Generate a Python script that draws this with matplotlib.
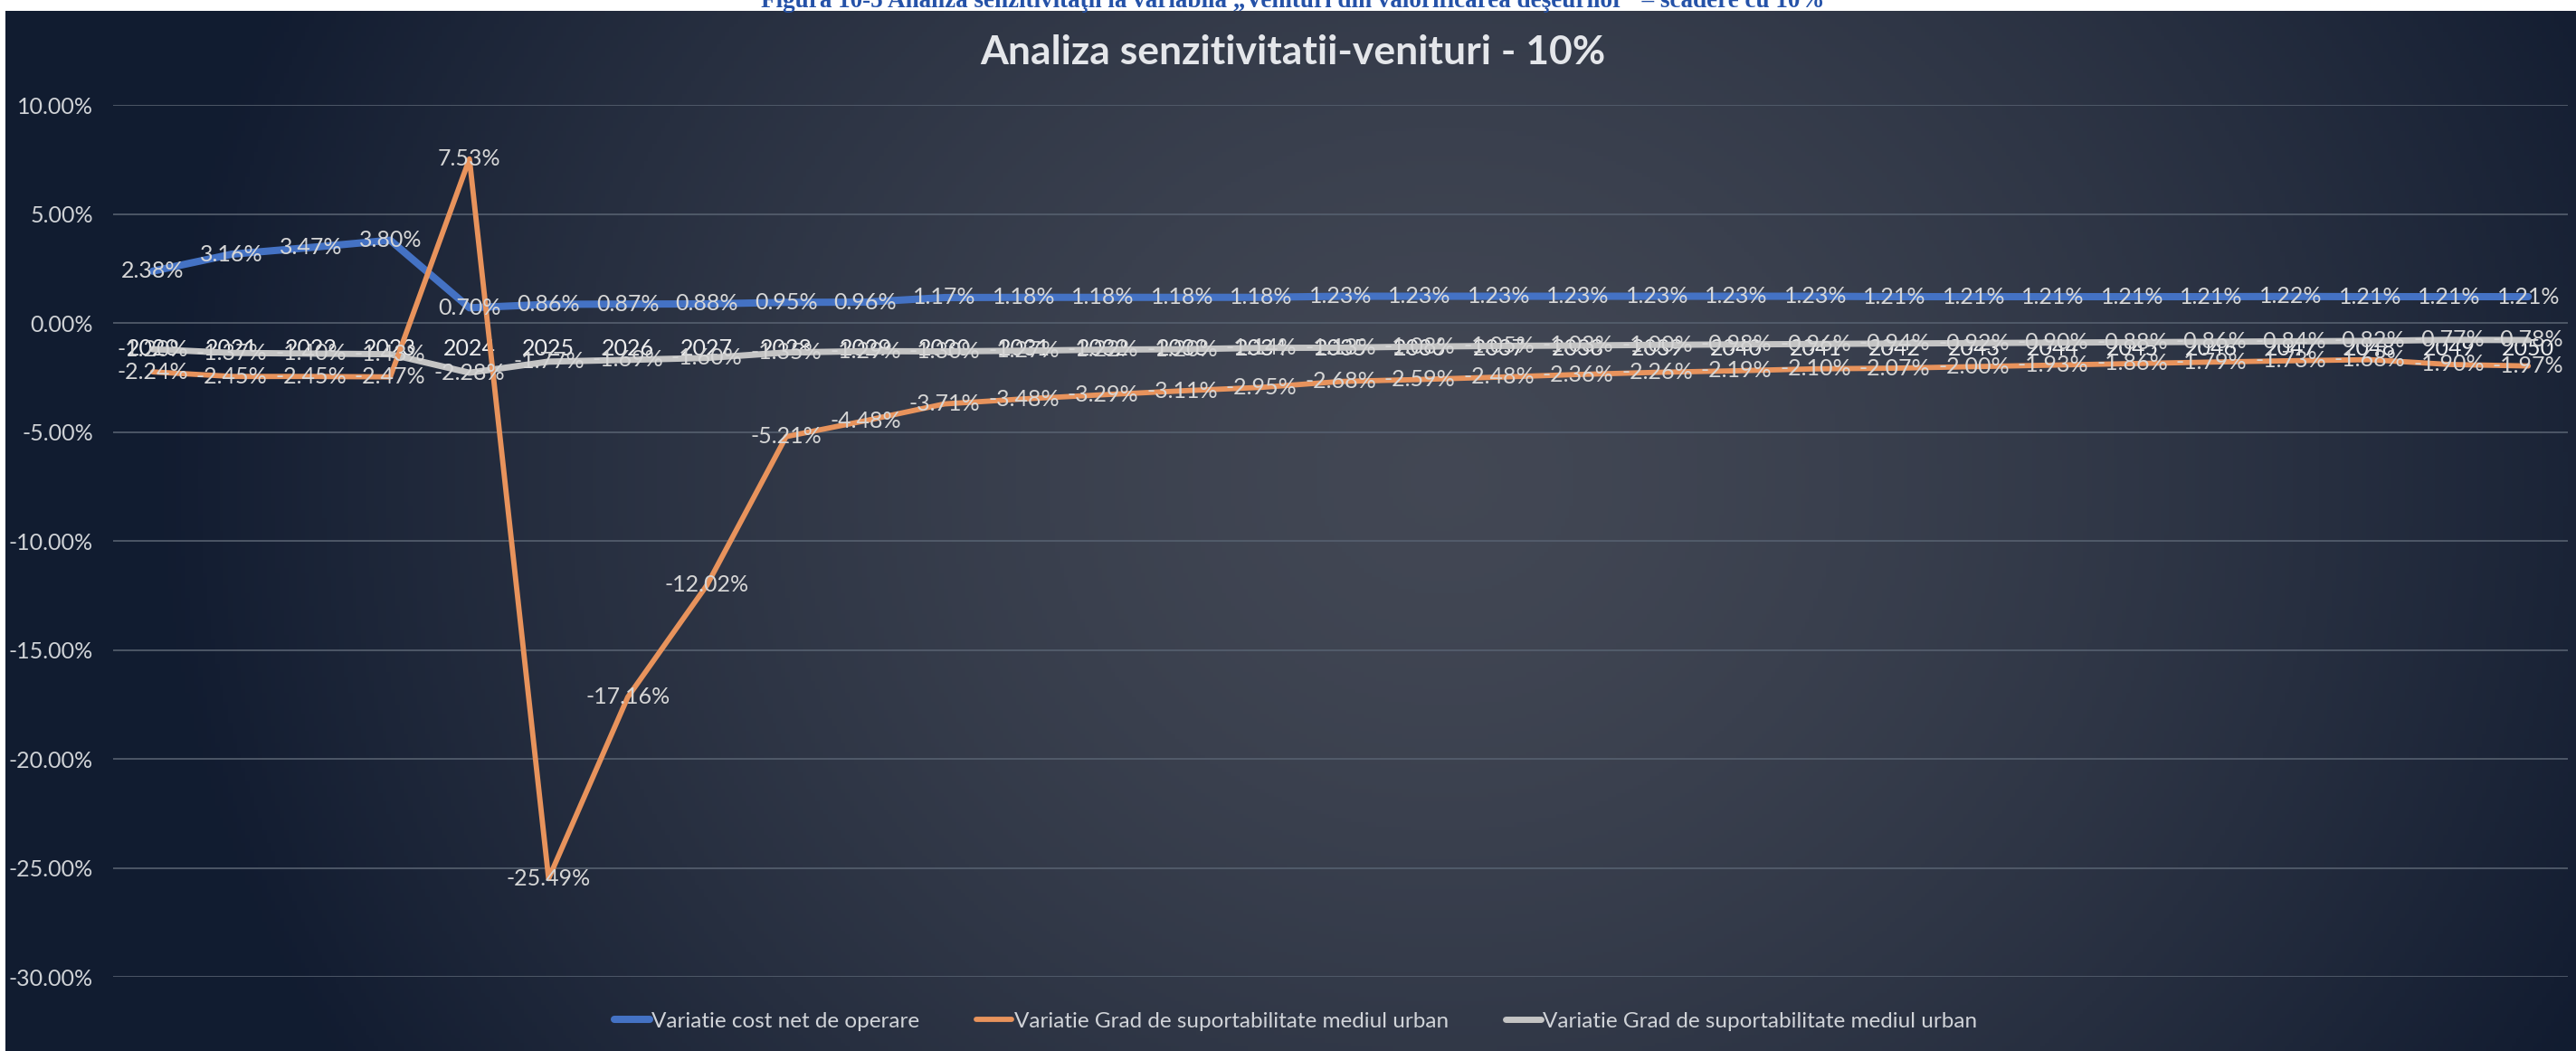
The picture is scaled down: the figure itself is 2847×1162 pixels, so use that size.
import numpy as np
import matplotlib
matplotlib.use("Agg")
import matplotlib.pyplot as plt
from matplotlib.ticker import FuncFormatter

years = list(range(2020, 2051))

cost_net = [2.38, 3.16, 3.47, 3.80, 0.70, 0.86, 0.87, 0.88, 0.95, 0.96,
            1.17, 1.18, 1.18, 1.18, 1.18, 1.23, 1.23, 1.23, 1.23, 1.23,
            1.23, 1.23, 1.21, 1.21, 1.21, 1.21, 1.21, 1.22, 1.21, 1.21, 1.21]

grad_urban_a = [-2.24, -2.45, -2.45, -2.47, 7.53, -25.49, -17.16, -12.02, -5.21, -4.48,
                -3.71, -3.48, -3.29, -3.11, -2.95, -2.68, -2.59, -2.48, -2.36, -2.26,
                -2.19, -2.10, -2.07, -2.00, -1.93, -1.86, -1.79, -1.73, -1.68, -1.90, -1.97]

grad_urban_b = [-1.20, -1.37, -1.40, -1.43, -2.28, -1.77, -1.69, -1.60, -1.35, -1.29,
                -1.30, -1.27, -1.22, -1.20, -1.14, -1.13, -1.08, -1.05, -1.03, -1.00,
                -0.98, -0.96, -0.94, -0.92, -0.90, -0.88, -0.86, -0.84, -0.82, -0.77, -0.78]

series_names = ["Variatie cost net de operare",
                "Variatie Grad de suportabilitate mediul urban",
                "Variatie Grad de suportabilitate mediul urban"]

title = "Analiza senzitivitatii-venituri - 10%"
caption = "Figura 10-5 Analiza senzitivităţii la variabila \u201eVenituri din valorificarea deşeurilor\u201d \u2013 scădere cu 10%"

yticks = [10, 5, 0, -5, -10, -15, -20, -25, -30]

plt.rcParams['font.family'] = ['Lato', 'DejaVu Sans']

W, H = 2847, 1162
fig = plt.figure(figsize=(W / 100, H / 100), dpi=100)
fig.patch.set_facecolor('white')

# dark navy background, lighter in the middle
bg = fig.add_axes([6 / W, 0, 1 - 6 / W, 1 - 12 / H])
gx, gy = np.meshgrid(np.linspace(0, 1, 600), np.linspace(0, 1, 250))
d = np.clip(((gx - 0.56) / 0.5) ** 2 + ((gy - 0.45) / 1.1) ** 2, 0, 1) ** 0.75
light = np.array([0.26, 0.28, 0.33])
dark = np.array([0.07, 0.11, 0.19])
img = light[None, None, :] * (1 - d[..., None]) + dark[None, None, :] * d[..., None]
bg.imshow(img, aspect='auto', extent=[0, 1, 0, 1], origin='upper')
bg.set_axis_off()

ax = fig.add_axes([125 / W, 0.0705, 2713 / W, 0.8295])
ax.set_facecolor('none')

grid_col = '#56606f'
for v in yticks:
    ax.axhline(v, color=grid_col, lw=1.2, zorder=1)

ax.plot(years, cost_net, color='#4472c4', lw=5.8, solid_capstyle='round', zorder=3, label=series_names[0])
ax.plot(years, grad_urban_b, color='#c4c4c4', lw=5.0, solid_capstyle='round', zorder=3, label=series_names[2])
ax.plot(years, grad_urban_a, color='#e8935c', lw=4.2, solid_capstyle='round', zorder=4, label=series_names[1])

lbl_col = '#d6d6d6'
for vals in (cost_net, grad_urban_a, grad_urban_b):
    for x, v in zip(years, vals):
        ax.text(x, v, f"{v:.2f}%", ha='center', va='center', fontsize=18,
                color=lbl_col, zorder=6)

ax.set_xlim(2019.5, 2050.5)
ax.set_ylim(-30, 10)
ax.set_yticks(yticks)
ax.yaxis.set_major_formatter(FuncFormatter(lambda v, p: f"{v:.2f}%"))
ax.set_xticks(years)
ax.set_xticklabels([str(y) for y in years])
ax.spines['bottom'].set_position(('data', 0))
for s in ax.spines.values():
    s.set_visible(False)
ax.tick_params(axis='y', length=0, pad=16, labelsize=18, labelcolor='#cfd2d6')
ax.tick_params(axis='x', length=0, pad=12, labelsize=18, labelcolor='#eeeeee')

handles, labels = ax.get_legend_handles_labels()
order = [0, 2, 1]
leg = fig.legend([handles[i] for i in order], [labels[i] for i in order],
                 loc='center', bbox_to_anchor=(0.503, 0.028), ncol=3, frameon=False,
                 fontsize=17.5, handlelength=1.6, handletextpad=0.1, columnspacing=2.6)
for t in leg.get_texts():
    t.set_color('#d0d3d8')

fig.text(0.502, 1 - 32 * 1.8157 / H, title, ha='center', va='center', fontsize=32,
         fontweight='bold', color='#e4e6ea')

fig.text(0.502, 1 - 8 / H, caption, ha='center', va='baseline', fontsize=19.5,
         fontweight='bold', color='#2552a8', family=['Liberation Serif', 'DejaVu Serif'])

fig.savefig('out.png', dpi=100)
